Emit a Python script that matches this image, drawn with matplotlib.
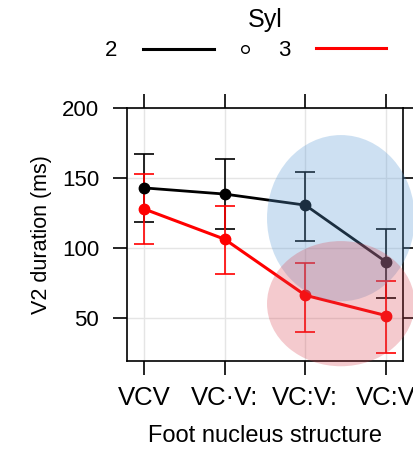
import matplotlib
matplotlib.use("Agg")
import numpy as np
from matplotlib import pyplot as plt
from matplotlib.patches import Ellipse
from matplotlib.lines import Line2D

plt.rcParams['font.family'] = ['Liberation Sans', 'DejaVu Sans']

categories = ['VCV', 'VC\u00b7V:', 'VC:V:', 'VC:V']
syl2_mean = [143, 138.6, 130.7, 90.2]
syl2_hi = [167, 163.6, 154, 113.8]
syl2_lo = [118.6, 113.6, 105, 64.5]
syl3_mean = [128, 106.4, 66.4, 51.9]
syl3_hi = [153, 130, 89.5, 76.4]
syl3_lo = [103, 81.4, 40.2, 25.2]
yticks = [50, 100, 150, 200]

W, H = 414, 450
fig = plt.figure(figsize=(W / 100, H / 100), dpi=100)
ax = fig.add_axes([127 / W, 1 - 361 / H, 276 / W, 253 / H])

x = np.arange(1, len(categories) + 1)

def draw(mean, lo, hi, color, lw):
  m = np.array(mean)
  err = [m - np.array(lo), np.array(hi) - m]
  ax.errorbar(x, m, yerr=err, color=color, lw=lw, marker='o', ms=7.5,
              capsize=7.5, elinewidth=1.2, capthick=1.2, zorder=3)

draw(syl2_mean, syl2_lo, syl2_hi, 'black', 2)
draw(syl3_mean, syl3_lo, syl3_hi, '#ff0000', 2.2)

ax.set_xlim(0.79, 4.21)
ax.set_ylim(19.5, 200)
ax.set_xticks(x)
ax.set_xticklabels(categories, fontsize=18.5)
ax.set_yticks(yticks)
ax.tick_params(axis='y', labelsize=16, pad=10)
ax.tick_params(axis='x', pad=8)
ax.tick_params(direction='out', length=10, width=1.2, top=True, right=True)
ax.grid(True, color='#e5e5e5', lw=1, zorder=0)
ax.set_axisbelow(True)
for s in ax.spines.values():
  s.set_linewidth(1.2)

ax.set_ylabel('V2 duration (ms)', fontsize=15.5, labelpad=7)
ax.set_xlabel('Foot nucleus structure', fontsize=17, labelpad=11)

# highlight ellipses
ax.add_patch(Ellipse((3.44, 121.4), 1.83, 118.6, facecolor='#5b9bd5', alpha=0.3,
                     edgecolor='none', clip_on=False, zorder=5))
ax.add_patch(Ellipse((3.44, 60.4), 1.83, 89.3, facecolor='#d9434f', alpha=0.28,
                     edgecolor='none', clip_on=False, zorder=6))

# key on top
fig.text(265 / W, 1 - 20 / H, 'Syl', ha='center', va='center', fontsize=18)
fig.text(111 / W, 1 - 51 / H, '2', ha='center', va='center', fontsize=16)
fig.text(284 / W, 1 - 51 / H, '3', ha='center', va='center', fontsize=16)
fig.add_artist(Line2D([143 / W, 214 / W], [1 - 49 / H] * 2, color='black', lw=2.2))
fig.add_artist(Line2D([316 / W, 386 / W], [1 - 48 / H] * 2, color='#ff0000', lw=2.2))
fig.add_artist(Line2D([245 / W], [1 - 49 / H], marker='o', ms=5.5, mfc='white',
                      mec='black', mew=1, ls='none'))

fig.savefig('out.png', dpi=100)
